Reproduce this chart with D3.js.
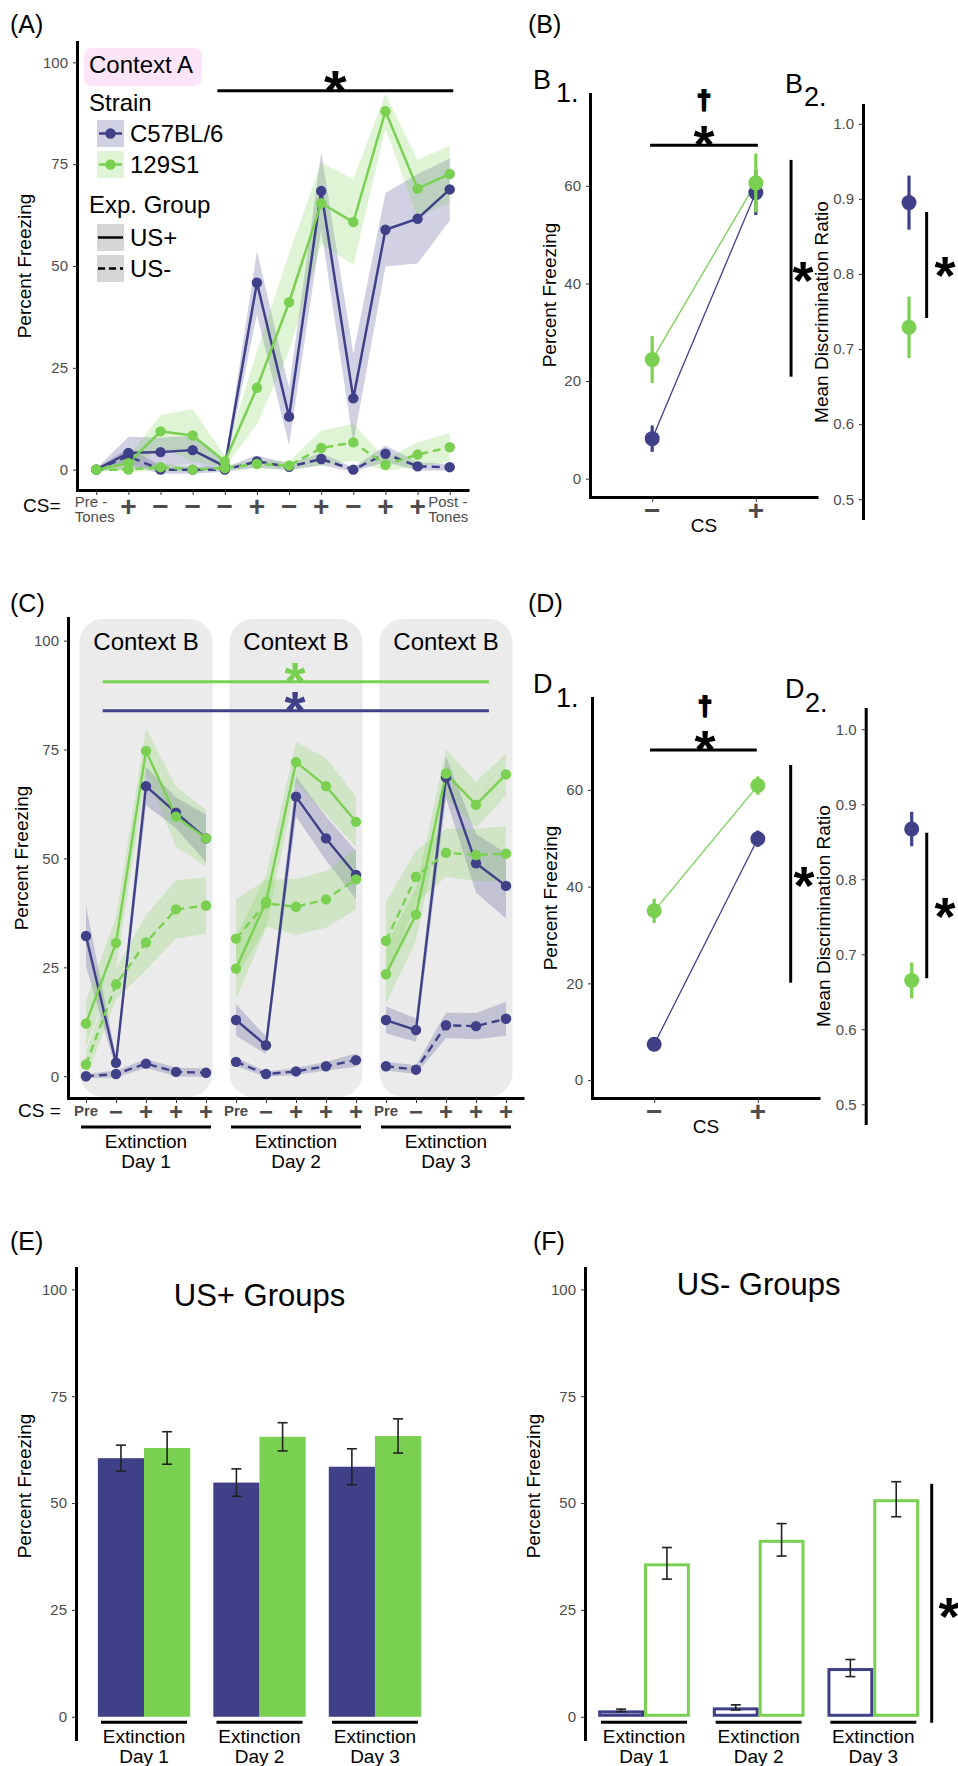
<!DOCTYPE html>
<html>
<head>
<meta charset="utf-8">
<script src="https://cdn.jsdelivr.net/npm/d3@7"></script>
<style>
  body { margin: 0; background: #fff; }
</style>
</head>
<body>
<svg id="fig" width="958" height="1766"></svg>
<script>
var FONT = "'Liberation Sans', Arial, Helvetica, sans-serif";
var BLUE = "#3f4088", GREEN = "#7ad151";
var TICK = "#4d4d4d";

// ---- Panel A: context A, CS presentations ----
var aLabels = ["Pre -|Tones", "+", "−", "−", "−", "+", "−", "+", "−", "+", "+", "Post -|Tones"];
var aC57Plus    = [0, 4.1, 4.3, 4.8, 0.8, 45.9, 13.0, 68.4, 17.5, 58.9, 61.6, 68.8];
var aC57PlusSe  = [0.3, 4, 3.5, 3.5, 1, 7.8, 7, 9.5, 11, 9, 11, 7.6];
var a129Plus    = [0, 1.6, 9.4, 8.4, 2.0, 20.1, 41.1, 65.4, 60.8, 88.0, 69.0, 72.6];
var a129PlusSe  = [0.3, 1.5, 4, 6.4, 1.5, 9, 12, 10, 10.5, 4.3, 7, 7];
var aC57Minus   = [0, 3.3, 0, 0, 0, 2.0, 0.7, 2.6, 0, 3.9, 0.8, 0.6];
var aC57MinusSe = [0.3, 2, 1, 1, 0.5, 1.5, 0.8, 1.5, 0.5, 2, 1, 0.8];
var a129Minus   = [0, 0, 0.6, 0, 0.4, 1.4, 1.0, 5.3, 6.7, 1.2, 3.7, 5.5];
var a129MinusSe = [0.3, 0.5, 1, 0.5, 0.5, 1, 1, 4.3, 4.5, 1.5, 3, 3.5];

// ---- Panel B: context A summary ----
var csLevels = ["−", "+"];
var bC57 = [8.2, 58.6], bC57Se = [2.7, 4.6];
var b129 = [24.4, 60.6], b129Se = [4.8, 6.0];
var bRatio = [0.895, 0.729], bRatioSe = [0.036, 0.041];

// ---- Panel C: extinction days in context B ----
var cLabels = ["Pre", "−", "+", "+", "+", "Pre", "−", "+", "+", "+", "Pre", "−", "+", "+", "+"];
var cC57Plus    = [32.2, 3.1, 66.6, 60.5, 54.6, 12.9, 7.1, 64.2, 54.6, 46.2, 12.9, 10.6, 68.6, 48.9, 43.7];
var cC57PlusSe  = [6.9, 1.5, 4.4, 3.5, 5.5, 3.6, 2, 4.6, 5, 5.5, 3.1, 2.7, 4.8, 6.7, 7.5];
var c129Plus    = [12.1, 30.6, 74.7, 59.6, 54.6, 24.7, 40.0, 72.1, 66.6, 58.4, 23.4, 37.1, 69.5, 62.3, 69.3];
var c129PlusSe  = [5.2, 6, 5.2, 6.9, 6.5, 7, 6, 4.7, 6.4, 5.8, 6.7, 6, 5.5, 5.3, 4.8];
var cC57Minus   = [0, 0.5, 2.9, 1.0, 0.8, 3.3, 0.5, 1.1, 2.3, 3.7, 2.3, 1.5, 11.7, 11.5, 13.2];
var cC57MinusSe = [0.5, 0.8, 1, 1, 1, 1, 0.6, 0.8, 1, 1.5, 1, 1, 2.9, 3, 3.9];
var c129Minus   = [2.7, 21.1, 30.7, 38.3, 39.2, 31.6, 39.7, 38.9, 40.6, 45.2, 31.1, 45.8, 51.3, 50.8, 51.1];
var c129MinusSe = [3, 3.5, 6.3, 6.7, 6.5, 9, 5.4, 6.4, 6.5, 6.9, 9, 6, 5.5, 6, 6.3];

// ---- Panel D: context B summary ----
var dC57 = [7.4, 49.9], dC57Se = [0.8, 1.7];
var d129 = [35.0, 60.9], d129Se = [2.5, 1.9];
var dRatio = [0.867, 0.665], dRatioSe = [0.023, 0.024];

// ---- Panels E/F: mean freezing per extinction day ----
var days = ["Day 1", "Day 2", "Day 3"];
var eC57 = [60.5, 54.8, 58.5], eC57Se = [3.05, 3.2, 4.2];
var e129 = [62.9, 65.5, 65.7], e129Se = [3.8, 3.3, 4.0];
var fC57 = [1.5, 2.2, 11.4], fC57Se = [0.3, 0.6, 2.0];
var f129 = [35.9, 41.4, 50.9], f129Se = [3.7, 3.8, 4.1];

var svg = d3.select("#fig");
svg.append("rect").attr("width", 958).attr("height", 1766).attr("fill", "#fff");

function txt(x, y, s, size, o) {
  o = o || {};
  return svg.append("text").attr("x", x).attr("y", y).text(s)
    .attr("font-family", FONT).attr("font-size", size)
    .attr("font-weight", o.bold ? "bold" : null)
    .attr("fill", o.fill || "#000")
    .attr("text-anchor", o.anchor || "start");
}

// rotated axis title; x is the baseline position
function ylab(x, y, s) {
  svg.append("text").attr("transform", "translate(" + x + "," + y + ") rotate(-90)")
    .attr("text-anchor", "middle").attr("font-family", FONT).attr("font-size", 19)
    .text(s);
}

// asterisk / dagger centred on (x, y)
function star(x, y, size, color) {
  txt(x, y + size * 0.58, "*", size, {bold: true, anchor: "middle", fill: color || "#000"});
}
function dagger(x, y) {
  txt(x, y + 7.5, "†", 25, {bold: true, anchor: "middle"})
    .attr("stroke", "#000").attr("stroke-width", 2.2).attr("stroke-linejoin", "round");
}

function seg(x1, y1, x2, y2, color, w) {
  svg.append("line").attr("x1", x1).attr("y1", y1).attr("x2", x2).attr("y2", y2)
    .attr("stroke", color || "#000").attr("stroke-width", w || 3);
}

function yAxis(scale, x, ticks, fmt) {
  var g = svg.append("g").attr("transform", "translate(" + x + ",0)")
    .call(d3.axisLeft(scale).tickValues(ticks).tickSize(4).tickSizeOuter(0).tickPadding(5)
      .tickFormat(fmt || d3.format("d")));
  g.attr("font-family", FONT).attr("font-size", 15);
  g.select(".domain").attr("stroke", "#000").attr("stroke-width", 3).attr("stroke-linecap", "square");
  g.selectAll(".tick line").attr("stroke", "#333");
  g.selectAll(".tick text").attr("fill", TICK);
  return g;
}

function xAxis(scale, y, ticks) {
  var g = svg.append("g").attr("transform", "translate(0," + y + ")")
    .call(d3.axisBottom(scale).tickValues(ticks).tickSize(5).tickSizeOuter(0).tickFormat(""));
  g.select(".domain").attr("stroke", "#000").attr("stroke-width", 3);
  g.selectAll(".tick line").attr("stroke", "#333");
  return g;
}

// ribbons, then lines, then points for several groups
function drawSeries(xs, ys, groups, segs, r, lw) {
  function pts(g, s) {
    return d3.range(s[0], s[1] + 1).map(function(i) { return {i: i, v: g.vals[i], se: g.ses[i]}; });
  }
  var area = d3.area().x(function(d) { return xs(d.i); })
    .y0(function(d) { return ys(d.v - d.se); }).y1(function(d) { return ys(d.v + d.se); });
  var line = d3.line().x(function(d) { return xs(d.i); }).y(function(d) { return ys(d.v); });
  groups.forEach(function(g) {
    segs.forEach(function(s) {
      svg.append("path").datum(pts(g, s)).attr("d", area).attr("fill", g.color).attr("opacity", 0.24);
    });
  });
  groups.forEach(function(g) {
    segs.forEach(function(s) {
      svg.append("path").datum(pts(g, s)).attr("d", line).attr("fill", "none")
        .attr("stroke", g.color).attr("stroke-width", lw)
        .attr("stroke-dasharray", g.dash ? "8,5" : null);
    });
  });
  groups.forEach(function(g) {
    svg.append("g").selectAll("circle").data(g.vals).enter().append("circle")
      .attr("cx", function(d, i) { return xs(i); }).attr("cy", function(d) { return ys(d); })
      .attr("r", r).attr("fill", g.color);
  });
}

// =============== Panel A ===============
var xA = d3.scaleLinear().domain([-0.6, 11.6]).range([77, 469]);
var yA = d3.scaleLinear().domain([-5, 105]).range([490, 42]);

txt(10, 33, "(A)", 25);
svg.append("rect").attr("x", 84).attr("y", 48).attr("width", 118).attr("height", 38).attr("rx", 8)
  .attr("fill", "#fce5f8");
txt(89, 73, "Context A", 24);

drawSeries(xA, yA, [
  {vals: aC57Plus, ses: aC57PlusSe, color: BLUE},
  {vals: aC57Minus, ses: aC57MinusSe, color: BLUE, dash: true},
  {vals: a129Plus, ses: a129PlusSe, color: GREEN},
  {vals: a129Minus, ses: a129MinusSe, color: GREEN, dash: true}
], [[0, 11]], 5.2, 2.5);

yAxis(yA, 77, [0, 25, 50, 75, 100]);
xAxis(xA, 490, d3.range(aLabels.length));
ylab(31, 266, "Percent Freezing");

txt(23, 512, "CS=", 19);
aLabels.forEach(function(l, i) {
  if (l.indexOf("|") >= 0) {
    var p = l.split("|");
    txt(xA(i) - 21.5, 507, p[0], 15, {fill: TICK});
    txt(xA(i) - 21.5, 522, p[1], 15, {fill: TICK});
  } else {
    txt(xA(i), 516, l, 28, {bold: true, fill: TICK, anchor: "middle"});
  }
});

// significance bar
seg(xA(3.77), yA(93), xA(11.11), yA(93));
star(xA(7.44), yA(96.2), 58);

// legend
txt(89, 111, "Strain", 24);
[{y: 120, c: BLUE, l: "C57BL/6", b: 142}, {y: 151, c: GREEN, l: "129S1", b: 173}].forEach(function(k) {
  svg.append("rect").attr("x", 97).attr("y", k.y).attr("width", 27).attr("height", 27)
    .attr("fill", k.c).attr("opacity", 0.24);
  seg(99, k.y + 13.5, 122, k.y + 13.5, k.c, 2.5);
  svg.append("circle").attr("cx", 110.5).attr("cy", k.y + 13.5).attr("r", 5.2).attr("fill", k.c);
  txt(130, k.b, k.l, 24);
});
txt(89, 213, "Exp. Group", 24);
[{y: 224, d: null, l: "US+", b: 246}, {y: 255, d: "7,4", l: "US-", b: 277}].forEach(function(k) {
  svg.append("rect").attr("x", 97).attr("y", k.y).attr("width", 27).attr("height", 27)
    .attr("fill", "#d6d6d6");
  svg.append("line").attr("x1", 98).attr("x2", 123).attr("y1", k.y + 13.5).attr("y2", k.y + 13.5)
    .attr("stroke", "#000").attr("stroke-width", 2.5).attr("stroke-dasharray", k.d);
  txt(130, k.b, k.l, 24);
});

// =============== Panel B ===============
txt(528, 33, "(B)", 25);
txt(533, 89, "B", 27); txt(556, 102, "1.", 27);
txt(785, 93, "B", 27); txt(804, 106, "2.", 27);

var xB = d3.scaleLinear().domain([-0.6, 1.6]).range([590, 818]);
var yB = d3.scaleLinear().domain([-3.75, 78.8]).range([497, 94]);

function pairPanel(xs, ys, c57, c57se, s129, s129se) {
  [{v: c57, se: c57se, c: BLUE}, {v: s129, se: s129se, c: GREEN}].forEach(function(g) {
    svg.append("path").datum(g.v).attr("fill", "none").attr("stroke", g.c).attr("stroke-width", 1.3)
      .attr("d", d3.line().x(function(d, i) { return xs(i); }).y(function(d) { return ys(d); }));
  });
  [{v: c57, se: c57se, c: BLUE}, {v: s129, se: s129se, c: GREEN}].forEach(function(g) {
    g.v.forEach(function(d, i) {
      seg(xs(i), ys(d - g.se[i]), xs(i), ys(d + g.se[i]), g.c, 3.2);
      svg.append("circle").attr("cx", xs(i)).attr("cy", ys(d)).attr("r", 7.5).attr("fill", g.c);
    });
  });
}
pairPanel(xB, yB, bC57, bC57Se, b129, b129Se);
yAxis(yB, 590, [0, 20, 40, 60]);
xAxis(xB, 497, [0, 1]);
csLevels.forEach(function(l, i) { txt(xB(i), 520, l, 28, {bold: true, fill: TICK, anchor: "middle"}); });
txt(xB(0.5), 532, "CS", 19, {anchor: "middle"});
ylab(556, 295, "Percent Freezing");

seg(xB(-0.02), yB(68.3), xB(1.02), yB(68.3));
star(xB(0.5), yB(71), 54);
dagger(xB(0.5), yB(77.2));
seg(xB(1.34), yB(65.3), xB(1.34), yB(20.9));
star(xB(1.456), yB(43.2), 54);

// B2: discrimination ratio
var xB2 = d3.scaleLinear().domain([0.4, 1.6]).range([863, 955]);
var yB2 = d3.scaleLinear().domain([0.475, 1.025]).range([518, 105]);
function ratioPanel(xs, ys, vals, ses) {
  [BLUE, GREEN].forEach(function(c, i) {
    seg(xs(1), ys(vals[i] - ses[i]), xs(1), ys(vals[i] + ses[i]), c, 3.2);
    svg.append("circle").attr("cx", xs(1)).attr("cy", ys(vals[i])).attr("r", 7.5).attr("fill", c);
  });
}
ratioPanel(xB2, yB2, bRatio, bRatioSe);
yAxis(yB2, 863, [0.5, 0.6, 0.7, 0.8, 0.9, 1.0], d3.format(".1f"));
ylab(828, 312, "Mean Discrimination Ratio");
seg(xB2(1.23), yB2(0.8825), xB2(1.23), yB2(0.7414));
star(xB2(1.47), yB2(0.8146), 54);

// =============== Panel C ===============
txt(10, 612, "(C)", 25);
var xC = d3.scaleLinear().domain([-0.6, 14.6]).range([68, 524]);
var yC = d3.scaleLinear().domain([-5, 105.2]).range([1098, 618]);
var daySegs = [[0, 4], [5, 9], [10, 14]];

daySegs.forEach(function(s) {
  var cx = xC(s[0] + 2);
  svg.append("rect").attr("x", cx - 66.5).attr("y", 619).attr("width", 133).attr("height", 478)
    .attr("rx", 24).attr("fill", "#ebebeb");
  txt(cx, 650, "Context B", 24, {anchor: "middle"});
});

seg(xC(0.557), yC(90.57), xC(13.43), yC(90.57), GREEN, 3);
star(xC(6.97), yC(93.5), 54, GREEN);
seg(xC(0.557), yC(83.9), xC(13.43), yC(83.9), BLUE, 3);
star(xC(6.97), yC(86.8), 54, BLUE);

drawSeries(xC, yC, [
  {vals: cC57Plus, ses: cC57PlusSe, color: BLUE},
  {vals: cC57Minus, ses: cC57MinusSe, color: BLUE, dash: true},
  {vals: c129Plus, ses: c129PlusSe, color: GREEN},
  {vals: c129Minus, ses: c129MinusSe, color: GREEN, dash: true}
], daySegs, 5.2, 2.4);

yAxis(yC, 68, [0, 25, 50, 75, 100]);
xAxis(xC, 1098, d3.range(cLabels.length));
ylab(28, 858, "Percent Freezing");

txt(18, 1117, "CS =", 19);
cLabels.forEach(function(l, i) {
  if (l === "Pre") txt(xC(i), 1116, l, 15, {bold: true, fill: TICK, anchor: "middle"});
  else txt(xC(i), 1120, l, 24, {bold: true, fill: TICK, anchor: "middle"});
});
daySegs.forEach(function(s, k) {
  var cx = xC(s[0] + 2);
  seg(cx - 65, 1127, cx + 65, 1127, "#000", 3);
  txt(cx, 1148, "Extinction", 19, {anchor: "middle"});
  txt(cx, 1168, days[k], 19, {anchor: "middle"});
});

// =============== Panel D ===============
txt(528, 612, "(D)", 25);
txt(533, 693, "D", 27); txt(556, 707, "1.", 27);
txt(785, 698, "D", 27); txt(805, 712, "2.", 27);

var xD = d3.scaleLinear().domain([-0.6, 1.6]).range([592, 820]);
var yD = d3.scaleLinear().domain([-3.7, 79]).range([1098, 698]);
pairPanel(xD, yD, dC57, dC57Se, d129, d129Se);
yAxis(yD, 592, [0, 20, 40, 60]);
xAxis(xD, 1098, [0, 1]);
csLevels.forEach(function(l, i) { txt(xD(i), 1121, l, 28, {bold: true, fill: TICK, anchor: "middle"}); });
txt(xD(0.5), 1133, "CS", 19, {anchor: "middle"});
ylab(557, 898, "Percent Freezing");

seg(xD(-0.04), yD(68.25), xD(0.99), yD(68.25));
star(xD(0.49), yD(71), 54);
dagger(xD(0.49), yD(77));
seg(xD(1.317), yD(65.15), xD(1.317), yD(20.14));
star(xD(1.446), yD(42.8), 54);

var xD2 = d3.scaleLinear().domain([0.4, 1.6]).range([865.7, 957.7]);
var yD2 = d3.scaleLinear().domain([0.475, 1.027]).range([1123, 709]);
ratioPanel(xD2, yD2, dRatio, dRatioSe);
yAxis(yD2, 865.7, [0.5, 0.6, 0.7, 0.8, 0.9, 1.0], d3.format(".1f"));
ylab(830, 916, "Mean Discrimination Ratio");
seg(xD2(1.196), yD2(0.862), xD2(1.196), yD2(0.668));
star(xD2(1.434), yD2(0.768), 54);

// =============== Panels E and F ===============
function barPanel(x0, x1, title, titleY, c57, c57se, s129, s129se, hollow) {
  var xs = d3.scaleBand().domain(days).range([x0, x1]).paddingInner(0.2).paddingOuter(0.1);
  var ys = d3.scaleLinear().domain([-5.2, 105]).range([1739, 1268]);
  var inner = d3.scaleBand().domain(["C57BL/6", "129S1"]).range([0, xs.bandwidth()]);
  [{v: c57, se: c57se, c: BLUE, k: "C57BL/6"}, {v: s129, se: s129se, c: GREEN, k: "129S1"}].forEach(function(g) {
    svg.append("g").selectAll("rect").data(g.v).enter().append("rect")
      .attr("x", function(d, i) { return xs(days[i]) + inner(g.k) + (hollow ? 1.5 : 0); })
      .attr("width", inner.bandwidth() - (hollow ? 3 : 0))
      .attr("y", function(d) { return ys(d) + (hollow ? 1.5 : 0); })
      .attr("height", function(d) { return ys(0) - ys(d) - (hollow ? 3 : 0); })
      .attr("fill", hollow ? "#fff" : g.c)
      .attr("stroke", hollow ? g.c : null).attr("stroke-width", 3);
    g.v.forEach(function(d, i) {
      var cx = xs(days[i]) + inner(g.k) + inner.bandwidth() / 2;
      seg(cx, ys(d - g.se[i]), cx, ys(d + g.se[i]), "#222", 1.6);
      seg(cx - 5, ys(d - g.se[i]), cx + 5, ys(d - g.se[i]), "#222", 1.6);
      seg(cx - 5, ys(d + g.se[i]), cx + 5, ys(d + g.se[i]), "#222", 1.6);
    });
  });
  days.forEach(function(d) {
    var cx = xs(d) + xs.bandwidth() / 2;
    seg(cx - 43, ys(-1.3), cx + 43, ys(-1.3), "#000", 3);
    txt(cx, 1743, "Extinction", 19, {anchor: "middle"});
    txt(cx, 1763, d, 19, {anchor: "middle"});
  });
  txt((x0 + x1) / 2 + 0, titleY, title, 31, {anchor: "middle"});
  return {xs: xs, ys: ys};
}

txt(10, 1250, "(E)", 25);
var pe = barPanel(86.3, 432.7, "US+ Groups", 1306, eC57, eC57Se, e129, e129Se, false);
yAxis(pe.ys, 76, [0, 25, 50, 75, 100]);
ylab(31, 1486, "Percent Freezing");

txt(533, 1250, "(F)", 25);
var pf = barPanel(586.7, 930.6, "US- Groups", 1295, fC57, fC57Se, f129, f129Se, true);
yAxis(pf.ys, 585, [0, 25, 50, 75, 100]);
ylab(540, 1486, "Percent Freezing");
seg(931.7, pf.ys(54.5), 931.7, pf.ys(-1.4));
star(949, pf.ys(26.4), 54);
</script>
</body>
</html>
